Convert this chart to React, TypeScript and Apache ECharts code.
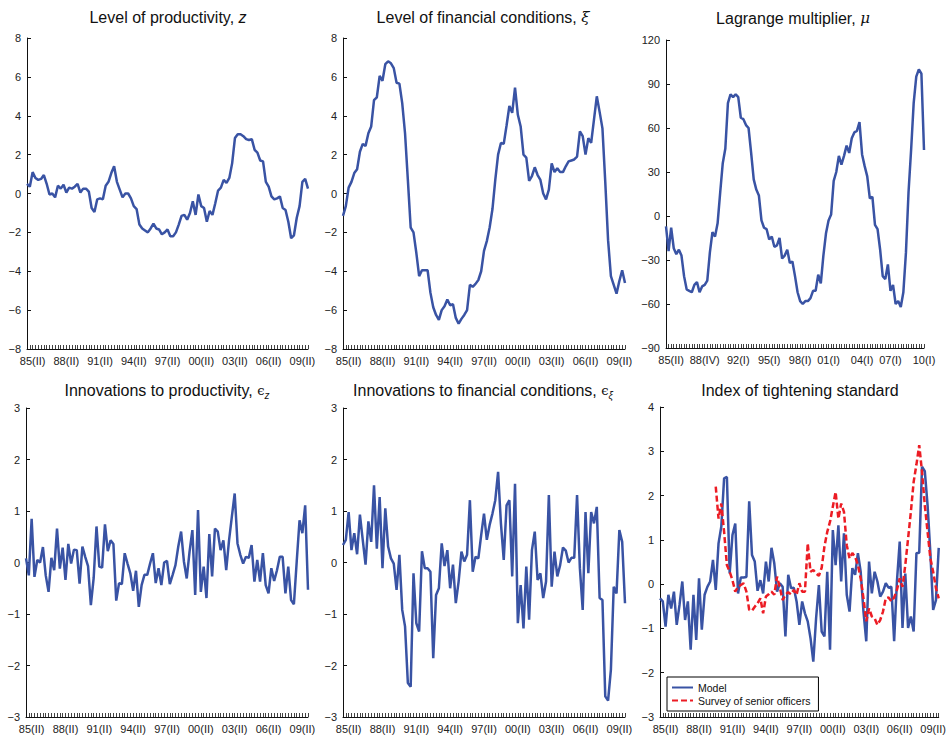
import { useEffect, useRef } from 'react';
import * as echarts from 'echarts';

// ---------- data (quarterly, 101 observations) ----------
const zLevel = [
  0.5, 0.35, 1.1, 0.8, 0.7, 0.75, 0.95, 0.5, -0.05, 0, -0.2, 0.4, 0.25, 0.45, 0.05, 0.3, 0.25, 0.35, 0.5, 0.05,
  0.25, 0.25, 0.1, -0.75, -0.95, -0.3, -0.25, -0.3, 0.4, 0.6, 1.05, 1.4, 0.6, 0.2, -0.2, 0.0, 0, -0.25, -0.65, -0.8,
  -1.6, -1.8, -1.9, -2.0, -1.8, -1.55, -1.8, -1.85, -2.1, -2.0, -1.85, -2.2, -2.2, -2.0, -1.6, -1.15, -1.1, -1.35, -1.0, -0.4,
  -1.1, -0.05, -0.65, -0.75, -1.45, -0.9, -1.1, -0.5, 0.15, 0.3, 0.7, 0.55, 0.8, 1.55, 2.85, 3.05, 3.05, 2.95, 2.8, 2.75,
  2.8, 2.25, 2.1, 1.7, 1.65, 0.6, 0.35, -0.15, -0.3, -0.25, -0.15, -0.75, -0.85, -1.45, -2.3, -2.15, -1.25, -0.65, 0.6, 0.75,
  0.25,
];

const xiLevel = [
  -1.15, -0.65, 0.3, 0.6, 1.05, 1.25, 2.15, 2.55, 2.45, 3.1, 3.45, 4.8, 4.95, 6.05, 5.8, 6.65, 6.8, 6.7, 6.45, 5.7,
  5.65, 4.65, 3.1, 0.7, -1.75, -2.0, -3.05, -4.25, -3.95, -3.95, -3.95, -5.1, -5.85, -6.25, -6.5, -6.0, -5.8, -5.45, -5.75, -5.7,
  -6.4, -6.7, -6.45, -6.25, -6.0, -4.7, -4.8, -4.65, -4.45, -4.0, -2.95, -2.45, -1.75, -0.8, 0.7, 2.0, 2.6, 2.55, 3.5, 4.5,
  4.15, 5.45, 4.05, 3.45, 2.0, 1.85, 0.65, 0.9, 1.35, 0.95, 0.7, 0.0, -0.3, 0.2, 1.55, 1.1, 1.3, 1.1, 1.1, 1.4,
  1.65, 1.7, 1.75, 1.9, 3.2, 2.95, 2.0, 2.85, 2.6, 3.8, 5.0, 4.2, 3.35, 0.6, -2.4, -4.25, -4.7, -5.15, -4.5, -3.95,
  -4.6,
];

const muValues = [
  -7, -24, -8, -22, -26, -23, -27, -41, -50, -51, -52, -47, -45, -52, -48, -47, -44, -25, -11, -14,
  -5, 16, 36, 46, 77, 83, 81, 83, 81, 67, 66, 62, 60, 43, 25, 18, 14, -3, -8, -9,
  -16, -14, -21, -20, -15, -29, -27, -23, -32, -31, -41, -52, -58, -60, -58, -58, -56, -51, -51, -40,
  -46, -27, -12, -3, 1, 24, 30, 41, 35, 41, 48, 43, 53, 57, 58, 64, 42, 34, 27, 12,
  13, -6, -9, -23, -41, -43, -33, -51, -47, -60, -58, -62, -52, -25, 16, 45, 77, 95, 100, 97,
  45,
];

const epsZ = [
  0.08, -0.25, 0.85, -0.28, 0.05, 0.0, 0.3, -0.25, -0.57, 0.09, -0.15, 0.66, -0.12, 0.29, -0.34, 0.36, -0.02, 0.25, 0.24, -0.41,
  0.31, 0.11, -0.07, -0.83, -0.3, 0.7, -0.08, -0.1, 0.74, 0.22, 0.43, 0.36, -0.74, -0.4, -0.42, 0.18, -0.02, -0.21, -0.55, -0.16,
  -0.86, -0.44, -0.24, -0.24, -0.02, 0.18, -0.4, -0.11, -0.44, 0.0, 0.03, -0.42, -0.24, -0.05, 0.31, 0.6, 0.02, -0.31, 0.21, 0.63,
  -0.63, 1.02, -0.57, -0.08, -0.69, 0.55, -0.27, 0.66, 0.6, 0.24, 0.43, -0.15, 0.43, 0.89, 1.34, 0.37, 0.15, -0.02, 0.11, 0.09,
  0.34, -0.37, 0.05, -0.37, 0.18, -0.44, -0.6, -0.11, -0.36, -0.15, 0.11, 0.11, -0.6, -0.08, -0.73, -0.81, 0.02, 0.82, 0.57, 1.11,
  -0.53,
];

const epsXi = [
  0.34, 0.44, 0.98, 0.24, 0.57, 0.16, 0.93, 0.44, -0.04, 0.8, 0.4, 1.5, 0.27, 1.27, -0.11, 1.05, 0.31, 0.08, -0.02, -0.53,
  0.15, -0.92, -1.24, -2.34, -2.41, -0.21, -1.18, -1.34, 0.22, -0.11, -0.11, -0.18, -1.86, -0.63, -0.5, 0.37, -0.07, 0.24, -0.5, -0.04,
  -0.79, -0.37, 0.21, 0.02, 0.15, 1.21, -0.18, 0.11, 0.08, 0.53, 0.95, 0.44, 0.73, 0.95, 1.21, 1.76, 0.76, 0.05, 1.11, 1.21,
  -0.27, 1.53, -1.18, -0.44, -1.28, -0.08, -1.11, 0.24, 0.6, -0.34, -0.21, -0.69, -0.37, 1.31, -0.47, 0.21, -0.27, -0.05, 0.29, 0.23,
  0.0, 0.09, 0.09, 1.31, -0.11, -0.92, 0.98, -0.21, 0.98, 0.76, 1.08, -0.69, -0.73, -2.6, -2.68, -2.08, -0.47, -0.6, 0.63, 0.4,
  -0.79,
];

const indexModel = [
  -0.32, -0.39, -0.96, -0.24, -0.55, -0.17, -0.92, -0.47, 0.06, -0.81, -0.39, -1.48, -0.24, -1.26, 0.13, -1.03, -0.24, -0.06, 0.06, 0.55,
  -0.13, 0.92, 1.3, 2.39, 2.42, 0.24, 1.11, 1.37, -0.21, 0.15, 0.15, 0.16, 1.87, 0.66, 0.51, -0.15, 0.09, -0.21, 0.51, 0.06,
  0.82, 0.47, -0.17, 0.02, -0.06, -1.18, 0.21, -0.09, -0.08, -0.39, -0.92, -0.39, -0.66, -0.84, -1.22, -1.75, -0.77, -0.02, -1.07, -1.18,
  0.28, -1.48, 1.22, 0.43, 1.33, 0.06, 1.15, -0.24, -0.62, 0.36, 0.21, 0.7, 0.28, -0.62, -1.29, 0.51, -0.21, 0.28, 0.06, -0.28,
  -0.17, 0.02, -0.08, -0.06, -1.29, 0.06, 0.96, -0.99, 0.24, -0.99, -0.73, -1.07, 0.7, 0.71, 2.65, 2.55, 1.78, 0.7, -0.58, -0.36,
  0.82,
];

const indexSurvey = [
  null, null, null, null, null, null, null, null, null, null, null, null, null, null, null, null, null, null, null, null,
  2.2, 1.48, 1.82, 1.18, 0.43, 0.28, 0.09, -0.17, -0.06, -0.02, 0.02, -0.17, -0.58, -0.6, -0.51, -0.43, -0.32, -0.66, -0.28, -0.23,
  -0.17, -0.24, 0.17, -0.08, -0.36, -0.24, -0.18, -0.23, -0.13, -0.24, 0.02, -0.17, -0.17, 0.92, 0.28, 0.32, 0.24, 0.19, 0.37, 0.85,
  1.18, 1.41, 1.75, 2.08, 1.48, 1.82, 1.63, 0.88, 0.58, 0.7, 0.62, 0.43, 0.13, -0.32, -0.84, -0.55, -0.73, -0.77, -0.92, -0.81,
  -0.62, -0.32, -0.3, -0.39, -0.3, -0.13, 0.13, -0.06, 0.43, 1.03, 1.63, 2.31, 2.7, 3.14, 2.54, 1.78, 1.18, 0.58, 0.28, -0.09,
  -0.32,
];

// tick labels
const xTickLabels = ['85(II)', '88(II)', '91(II)', '94(II)', '97(II)', '00(II)', '03(II)', '06(II)', '09(II)'];
const xTickIndex = [2, 14, 26, 38, 50, 62, 74, 86, 98];
const muTickLabels = ['85(II)', '88(IV)', '92(I)', '95(I)', '98(I)', '01(I)', '04(I)', '07(I)', '10(I)'];
const muTickIndex = [2, 15, 28, 40, 52, 63, 76, 87, 100];

const titles = [
  'Level of productivity, {i|z}',
  'Level of financial conditions, {g|ξ}',
  'Lagrange multiplier, {g|μ}',
  'Innovations to productivity, {e|ϵ}{s|z}',
  'Innovations to financial conditions, {e|ϵ}{s|ξ}',
  'Index of tightening standard',
];

const ROMAN = ['I', 'II', 'III', 'IV'];
const categories = Array.from({ length: zLevel.length }, (_, i) => {
  const q = i + 3; // first observation 84(IV)
  const yr = (84 + Math.floor(q / 4)) % 100;
  return String(yr).padStart(2, '0') + '(' + ROMAN[q % 4] + ')';
});

const FONT = '"Liberation Sans", Arial, Helvetica, sans-serif';
const SERIF = '"DejaVu Serif", "Liberation Serif", serif';
const BLUE = '#3953a4';
const RED = '#ec1c24';

export default function App() {
  const ref = useRef<HTMLDivElement>(null);
  useEffect(() => {
    if (!ref.current) return;
    const chart = echarts.init(ref.current, undefined, { renderer: 'svg' });

    const grids = [
      { left: 27, top: 38, width: 281, height: 311 },
      { left: 343, top: 38, width: 282, height: 311 },
      { left: 666, top: 40, width: 258, height: 308 },
      { left: 26, top: 408, width: 282, height: 309 },
      { left: 343, top: 408, width: 282, height: 309 },
      { left: 660, top: 407, width: 282, height: 310 },
    ];
    const yRanges = [
      [-8, 8, 2],
      [-8, 8, 2],
      [-90, 120, 30],
      [-3, 3, 1],
      [-3, 3, 1],
      [-3, 4, 1],
    ];
    const titlePos = [
      [168, 17],
      [483, 17],
      [793, 18],
      [167, 390],
      [483, 390],
      [800, 390],
    ];

    const mkX = (gi: number) => {
      const idx = gi === 2 ? muTickIndex : xTickIndex;
      const lab = gi === 2 ? muTickLabels : xTickLabels;
      const map: Record<number, string> = {};
      idx.forEach((k, j) => (map[k] = lab[j]));
      return {
        type: 'category',
        gridIndex: gi,
        data: categories,
        boundaryGap: false,
        axisLine: { onZero: false, lineStyle: { color: '#111', width: 1 } },
        axisTick: { show: true, inside: true, length: 4, interval: 0, lineStyle: { color: '#111', width: 0.8 } },
        axisLabel: {
          interval: (index: number) => map[index] !== undefined,
          formatter: (_v: string, index: number) => map[index] ?? '',
          fontFamily: FONT,
          fontSize: 11,
          color: '#222',
          margin: 6,
        },
        splitLine: { show: false },
      };
    };
    const mkY = (gi: number) => ({
      type: 'value',
      gridIndex: gi,
      min: yRanges[gi][0],
      max: yRanges[gi][1],
      interval: yRanges[gi][2],
      axisLine: { show: true, onZero: false, lineStyle: { color: '#111', width: 1 } },
      axisTick: { show: true, inside: true, length: 4, lineStyle: { color: '#111' } },
      axisLabel: {
        fontFamily: FONT,
        fontSize: 11,
        color: '#222',
        margin: 6,
        formatter: (v: number) => String(v).replace('-', '\u2212'),
      },
      splitLine: { show: false },
    });

    const line = (name: string, data: (number | null)[], gi: number, color: string, dashed = false) => ({
      type: 'line',
      name,
      xAxisIndex: gi,
      yAxisIndex: gi,
      data,
      symbol: 'none',
      showSymbol: false,
      connectNulls: false,
      lineStyle: { color, width: 2.5, type: dashed ? [6, 3] : 'solid' },
      itemStyle: { color },
    });

    const option = {
      animation: false,
      backgroundColor: '#fff',
      textStyle: { fontFamily: FONT },
      grid: grids,
      xAxis: grids.map((_, i) => mkX(i)),
      yAxis: grids.map((_, i) => mkY(i)),
      legend: {
        show: true,
        data: ['Model', 'Survey of senior officers'],
        orient: 'vertical',
        left: 667,
        top: 677,
        padding: [5, 8, 5, 4],
        itemGap: 2,
        itemWidth: 21,
        itemHeight: 10,
        borderColor: '#000',
        borderWidth: 1,
        backgroundColor: '#fff',
        itemStyle: { opacity: 0 },
        textStyle: { fontFamily: FONT, fontSize: 10.5, color: '#111', padding: [0, 0, 0, 0] },
      },
      series: [
        line('z', zLevel, 0, BLUE),
        line('xi', xiLevel, 1, BLUE),
        line('mu', muValues, 2, BLUE),
        line('epsz', epsZ, 3, BLUE),
        line('epsxi', epsXi, 4, BLUE),
        line('Model', indexModel, 5, BLUE),
        line('Survey of senior officers', indexSurvey, 5, RED, true),
      ],
      graphic: titles.map((t, i) => ({
        type: 'text',
        x: titlePos[i][0],
        y: titlePos[i][1],
        style: {
          text: t,
          fontFamily: FONT,
          fontSize: 16,
          fill: '#111',
          align: 'center',
          verticalAlign: 'middle',
          rich: {
            i: { fontFamily: FONT, fontStyle: 'italic', fontSize: 16, fill: '#111' },
            g: { fontFamily: SERIF, fontStyle: 'italic', fontSize: 15, fill: '#111' },
            e: { fontFamily: SERIF, fontSize: 13, fill: '#111' },
            s: {
              fontFamily: FONT,
              fontStyle: 'italic',
              fontSize: 10,
              fill: '#111',
              padding: [10, 0, 0, 0],
            },
          },
        },
      })),
    };

    chart.setOption(option as any);
    return () => chart.dispose();
  }, []);

  return (
    <div
      ref={ref}
      style={{ position: 'fixed', left: 0, top: 0, width: 949, height: 735, background: '#fff' }}
    />
  );
}
